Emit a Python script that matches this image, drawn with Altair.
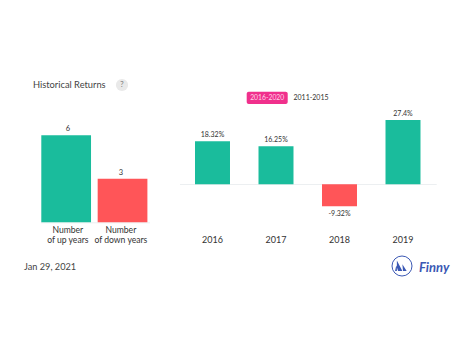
import altair as alt
import pandas as pd

FONT = "Lato"
GREEN = "#1abc9c"
RED = "#ff5558"
BLUE = "#3b58b4"

count_labels = ["Number\nof up years", "Number\nof down years"]
count_values = [6, 3]
count_dirs = ["up", "down"]

years = ["2016", "2017", "2018", "2019"]
returns = [18.32, 16.25, -9.32, 27.4]
return_labels = ["18.32%", "16.25%", "-9.32%", "27.4%"]
return_dirs = ["up", "up", "down", "up"]

left = pd.DataFrame({"cat": count_labels, "v": count_values, "dir": count_dirs})
right = pd.DataFrame({"year": years, "v": returns, "lab": return_labels, "dir": return_dirs})
one = pd.DataFrame({"a": [0]})

color = alt.Color("dir:N", scale=alt.Scale(domain=["up", "down"], range=[GREEN, RED]), legend=None)

lx = alt.X("cat:N", axis=None, sort=count_labels,
           scale=alt.Scale(domain=count_labels, range=[33.3, 139.4], paddingInner=0.118, paddingOuter=0))
ly = alt.Y("v:Q", axis=None, stack=None,
           scale=alt.Scale(domain=[0, 6], range=[214.3, 127.3], nice=False, zero=False))
rx = alt.X("year:N", axis=None, sort=years,
           scale=alt.Scale(domain=years, range=[172.75, 426.75], paddingInner=0.449, paddingOuter=0.2245))
ry = alt.Y("v:Q", axis=None, stack=None,
           scale=alt.Scale(domain=[-10, 30], range=[199.77, 105.9], nice=False, zero=False))


def txt(s, x, y, size=11, col="#444444", align="center", **kw):
    return alt.Chart(one).mark_text(text=s, font=FONT, fontSize=size, color=col, align=align,
                                    baseline="middle", **kw).encode(x=alt.value(x), y=alt.value(y))


def rule(x1, x2, y, col="#eceff1"):
    return alt.Chart(one).mark_rule(color=col, strokeWidth=1).encode(
        x=alt.value(x1), x2=alt.value(x2), y=alt.value(y))


left_bars = alt.Chart(left).mark_bar().encode(x=lx, y=ly, color=color)
left_vals = alt.Chart(left).mark_text(font=FONT, fontSize=7.5, color="#333333", dy=-6, baseline="middle").encode(
    x=lx, y=ly, text="v:Q")
left_cats = alt.Chart(left).mark_text(font=FONT, fontSize=8.6, color="#333333", lineBreak="\n",
                                      lineHeight=10, baseline="middle").encode(
    x=lx, y=alt.value(222), text="cat:N")

right_bars = alt.Chart(right).mark_bar().encode(x=rx, y=ry, color=color)
pos_vals = alt.Chart(right).transform_filter("datum.v >= 0").mark_text(
    font=FONT, fontSize=7, color="#333333", dy=-6, baseline="middle").encode(x=rx, y=ry, text="lab:N")
neg_vals = alt.Chart(right).transform_filter("datum.v < 0").mark_text(
    font=FONT, fontSize=7, color="#333333", dy=8, baseline="middle").encode(x=rx, y=ry, text="lab:N")
year_labs = alt.Chart(right).mark_text(font=FONT, fontSize=9, color="#333333", baseline="middle").encode(
    x=rx, y=alt.value(231.5), text="year:N")

help_dot = alt.Chart(one).mark_point(filled=True, size=150, color="#e9e9e9", opacity=1, shape="circle").encode(
    x=alt.value(114), y=alt.value(77))
button = alt.Chart(one).mark_rect(color="#f0308c", cornerRadius=2).encode(
    x=alt.value(238.7), x2=alt.value(279.7), y=alt.value(83.7), y2=alt.value(96))
logo_ring = alt.Chart(one).mark_point(filled=False, size=400, color=BLUE, strokeWidth=1, opacity=1, shape="circle").encode(
    x=alt.value(394), y=alt.value(258))
sails = alt.Chart(one).mark_point(
    filled=True, size=150, color=BLUE, opacity=1,
    shape="M-1 -0.9 L-0.1 0.8 L-1 0.8 Z M-0.1 -0.3 L0.6 0.8 L0 0.8 Z M-1.1 -0.1 L-1.3 0.8 L-0.8 0.8 Z",
).encode(x=alt.value(395), y=alt.value(258))

chart = alt.layer(
    rule(33, 142, 214.8),
    left_bars, left_vals, left_cats,
    rule(172, 428.7, 176.5),
    right_bars, pos_vals, neg_vals, year_labs,
    txt("Historical Returns", 25, 77, size=9.3, align="left"),
    help_dot,
    txt("?", 114, 77, size=7.5, col="#777777"),
    button,
    txt("2016-2020", 259.2, 90, size=6.8, col="#ffd3e8"),
    txt("2011-2015", 303, 90, size=7, col="#333333"),
    txt("Jan 29, 2021", 16, 259, size=9.2, align="left"),
    logo_ring, sails,
    txt("Finny", 411, 260, size=13, col=BLUE, align="left", fontStyle="italic", fontWeight="bold"),
).resolve_scale(x="independent", y="independent").properties(
    width=458, height=339, padding=0, autosize=alt.AutoSizeParams(type="none"), background="white"
).configure_view(stroke=None)

chart.save("out.html", embed_options={"renderer": "svg", "actions": False})
